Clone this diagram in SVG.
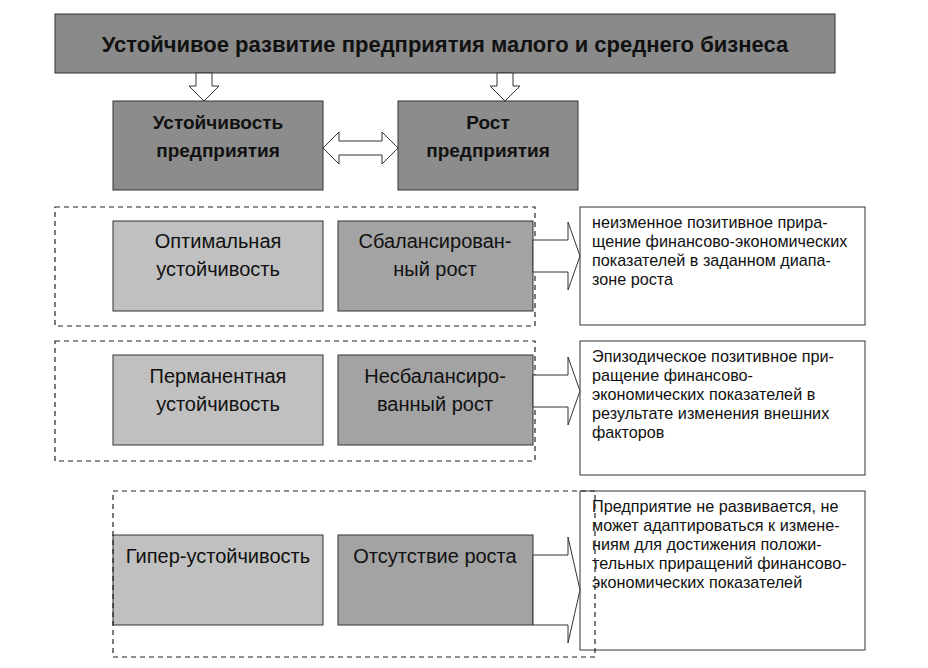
<svg xmlns="http://www.w3.org/2000/svg" width="928" height="668" viewBox="0 0 928 668">
<style>
text{font-family:"Liberation Sans",Arial,sans-serif;fill:#111}
.t{font-size:20px;text-anchor:middle}
.b{font-weight:bold;font-size:19px;text-anchor:middle}
.d{font-size:16.2px}
.dash{fill:none;stroke:#222;stroke-width:1.2;stroke-dasharray:5,4}
.ar{fill:#fff;stroke:#333;stroke-width:1}
</style>
<rect width="928" height="668" fill="#fff"/>
<g id="title"><rect x="55" y="14" width="780" height="59" fill="#8a8a8a" stroke="#333"/>
<text x="445" y="52" style="font-weight:bold;font-size:22px;text-anchor:middle">Устойчивое развитие предприятия малого и среднего бизнеса</text></g>
<g id="stab"><rect x="113" y="101" width="210" height="89" fill="#8c8c8c" stroke="#333"/>
<text class="b" x="218" y="129">Устойчивость</text><text class="b" x="218" y="157">предприятия</text></g>
<g id="growth"><rect x="398" y="101" width="180" height="89" fill="#8c8c8c" stroke="#333"/>
<text class="b" x="488" y="129">Рост</text><text class="b" x="488" y="157">предприятия</text></g>
<g id="n1"><rect x="113" y="221" width="210" height="90" fill="#c0c0c0" stroke="#333"/>
<text class="t" x="218" y="248">Оптимальная</text><text class="t" x="218" y="276">устойчивость</text></g>
<g id="n2"><rect x="338" y="221" width="195" height="90" fill="#a3a3a3" stroke="#333"/>
<text class="t" x="435" y="248">Сбалансирован-</text><text class="t" x="435" y="276">ный рост</text></g>
<g id="n3"><rect x="113" y="355" width="210" height="90" fill="#c0c0c0" stroke="#333"/>
<text class="t" x="218" y="383">Перманентная</text><text class="t" x="218" y="411">устойчивость</text></g>
<g id="n4"><rect x="338" y="355" width="195" height="90" fill="#a3a3a3" stroke="#333"/>
<text class="t" x="435" y="383">Несбалансиро-</text><text class="t" x="435" y="411">ванный рост</text></g>
<g id="n5"><rect x="113" y="535" width="210" height="90" fill="#c0c0c0" stroke="#333"/>
<text class="t" x="218" y="563">Гипер-устойчивость</text></g>
<g id="n6"><rect x="338" y="535" width="195" height="90" fill="#a3a3a3" stroke="#333"/>
<text class="t" x="435" y="563">Отсутствие роста</text></g>
<g id="d1"><rect x="580" y="207" width="285" height="118" fill="#fff" stroke="#333"/>
<text class="d" x="592" y="228">неизменное позитивное прира-</text><text class="d" x="592" y="247">щение финансово-экономических</text><text class="d" x="592" y="266">показателей в заданном диапа-</text><text class="d" x="592" y="285">зоне роста</text></g>
<g id="d2"><rect x="580" y="341" width="285" height="134" fill="#fff" stroke="#333"/>
<text class="d" x="592" y="362">Эпизодическое позитивное при-</text><text class="d" x="592" y="381">ращение финансово-</text><text class="d" x="592" y="400">экономических показателей в</text><text class="d" x="592" y="419">результате изменения внешних</text><text class="d" x="592" y="438">факторов</text></g>
<g id="d3"><rect x="580" y="491" width="285" height="159" fill="#fff" stroke="#333"/>
<text class="d" x="592" y="512">Предприятие не развивается, не</text><text class="d" x="592" y="531">может адаптироваться к измене-</text><text class="d" x="592" y="550">ниям для достижения положи-</text><text class="d" x="592" y="569">тельных приращений финансово-</text><text class="d" x="592" y="588">экономических показателей</text></g>
<g id="groups">
<rect class="dash" x="55" y="207" width="480" height="119"/>
<rect class="dash" x="55" y="341" width="480" height="120"/>
<rect class="dash" x="113" y="491" width="482" height="166"/>
</g>
<g id="connectors">
<path class="ar" d="M196,73 V86 H189 L204,101 L219,86 H212 V73 Z"/>
<path class="ar" d="M497,73 V86 H490 L505,101 L520,86 H513 V73 Z"/>
<path class="ar" d="M323,148 L339,132 V141 H382 V132 L398,148 L382,164 V155 H339 V164 Z"/>
<path class="ar" d="M533,240 H568 V222 L580,256 L568,290 V272 H533 Z"/>
<path class="ar" d="M533,375 H568 V357 L580,391 L568,425 V407 H533 Z"/>
<path class="ar" d="M533,555 H568 V537 L580,590 L568,643 V625 H533 Z"/>
</g>
</svg>
